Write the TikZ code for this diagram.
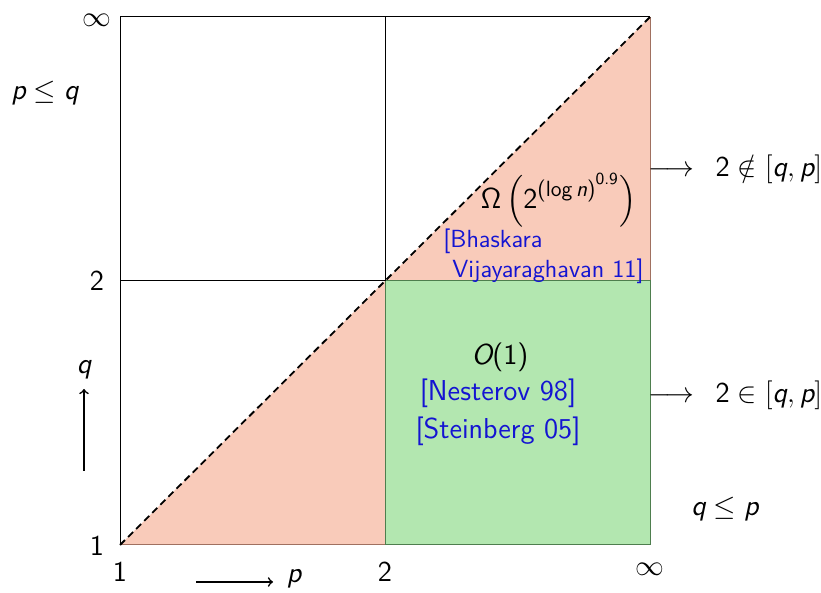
\documentclass[tikz,border=0pt]{standalone}
\usepackage{amsmath}
\usepackage{fix-cm}
\definecolor{pinkfill}{RGB}{249,203,186}
\definecolor{pinkedge}{RGB}{160,112,96}
\definecolor{greenfill}{RGB}{179,231,176}
\definecolor{greenedge}{RGB}{78,126,78}
\definecolor{citeblue}{RGB}{20,20,210}
\newcommand{\sfit}[1]{\text{\sffamily\itshape #1}}
\newcommand{\sfup}[1]{\text{\sffamily #1}}
\tikzset{
  lbl/.style={font=\sffamily\fontsize{14.4}{17}\selectfont, inner sep=0pt},
  cite/.style={lbl, text=citeblue},
  smallcite/.style={font=\sffamily\fontsize{12.4}{15}\selectfont, text=citeblue, inner sep=0pt, align=left},
  thinline/.style={line width=0.5pt},
  axarrow/.style={->, line width=0.8pt}
}
\begin{document}
\begin{tikzpicture}[x=0.5pt,y=-0.5pt]
\useasboundingbox (0,0) rectangle (821,593);
\coordinate (BL) at (120,545);
\coordinate (TL) at (120,17);
\coordinate (TR) at (650,17);
\coordinate (BR) at (650,545);
\coordinate (C) at (385,281);
\coordinate (Ctop) at (385,17);
\coordinate (Cbot) at (385,545);
\coordinate (Lmid) at (120,281);
\coordinate (Rmid) at (650,281);
% pink regions
\fill[pinkfill] (BL) -- (C) -- (Cbot) -- cycle;
\fill[pinkfill] (C) -- (TR) -- (Rmid) -- cycle;
\draw[pinkedge, thinline] (BL) -- (Cbot);
\draw[pinkedge, thinline] (TR) -- (Rmid);
% green square
\filldraw[fill=greenfill, draw=greenedge, thinline] (C) rectangle (BR);
% black frame lines
\draw[thinline] (BL) -- (TL) -- (TR);
\draw[thinline] (Ctop) -- (C);
\draw[thinline] (Lmid) -- (C);
% diagonal
\draw[line width=0.9pt, dash pattern=on 3.5pt off 2.2pt] (BL) -- (TR);
% axis labels
\node[lbl] (l1) at (97,546) {1};
\node[lbl] (l2) at (97,281) {2};
\node[lbl] (linf) at (97,20) {$\infty$};
\node[lbl] (b1) at (120,572) {1};
\node[lbl] (b2) at (385,572) {2};
\node[lbl] (binf) at (650,569) {$\infty$};
% axis arrows
\node[lbl] (qlab) at (84,370) {$\sfit{q}$};
\coordinate (qa1) at (84,471);
\coordinate (qa2) at (84,389);
\draw[axarrow] (qa1) -- (qa2);
\node[lbl] (plab) at (294,579) {$\sfit{p}$};
\coordinate (pa1) at (196,582);
\coordinate (pa2) at (273,582);
\draw[axarrow] (pa1) -- (pa2);
% region labels
\node[lbl] (pleq) at (45,93) {$\sfit{p}\le\sfit{q}$};
\node[lbl] (qleq) at (725,509) {$\sfit{q}\le\sfit{p}$};
\node[lbl, anchor=west] (notin) at (648,169) {$\longrightarrow\,\;\sfup{2}\notin[\sfit{q},\sfit{p}]$};
\node[lbl, anchor=west] (isin) at (648,395) {$\longrightarrow\,\;\sfup{2}\in[\sfit{q},\sfit{p}]$};
% upper result
\node[lbl] (omega) at (559,200) {Ω\,$\Big(\sfup{2}^{\text{\sffamily\fontsize{11}{12}\selectfont(log\,{\itshape n})}^{\text{\sffamily\fontsize{8.5}{10}\selectfont 0.9}}}\Big)$};
\node[smallcite, anchor=north west] (bhask) at (443,229) {[Bhaskara\\\hspace*{4.5pt}Vijayaraghavan 11]};
% lower result
\node[lbl] (o1) at (500,357) {$\sfit{O}$(1)};
\node[cite] (nest) at (498,393) {[Nesterov 98]};
\node[cite] (stein) at (498,431) {[Steinberg 05]};
\end{tikzpicture}
\end{document}
